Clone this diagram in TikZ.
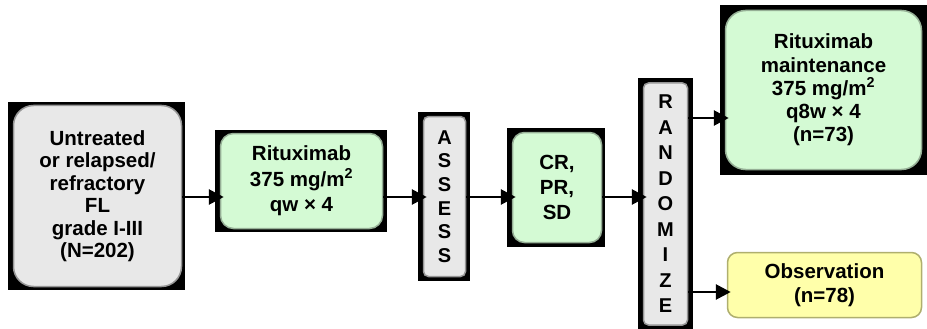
\documentclass[tikz,border=0pt]{standalone}
\usepackage{fontspec}
\setmainfont{Liberation Sans}
\usetikzlibrary{arrows.meta}
\definecolor{gfill}{RGB}{212,250,212}
\definecolor{gedge}{RGB}{150,175,150}
\definecolor{grfill}{RGB}{232,232,232}
\definecolor{gredge}{RGB}{150,150,150}
\definecolor{yfill}{RGB}{255,255,170}
\definecolor{yedge}{RGB}{175,175,110}
\tikzset{
  x=1pt, y=-1pt,
  txt/.style={font=\bfseries\fontsize{20.5}{22.5}\selectfont, align=center, inner sep=0pt, line width=1.5pt},
  greybox/.style={txt, fill=grfill, draw=gredge},
  greenbox/.style={txt, fill=gfill, draw=gedge},
  yellowbox/.style={txt, fill=yfill, draw=yedge},
  backing/.style={fill=black},
  arr/.style={line width=2.8pt, -{Triangle[length=15pt,width=15pt]}, shorten >=-4pt}
}
\begin{document}
\begin{tikzpicture}
\useasboundingbox (0,0) rectangle (927,329);
% black backdrops
\fill[backing] (8,102) rectangle (185,290);
\fill[backing] (215,130) rectangle (387,232);
\fill[backing] (418,112) rectangle (470,281);
\fill[backing] (507,128) rectangle (605,247);
\fill[backing] (638,78) rectangle (693,329);
\fill[backing] (720,5) rectangle (927,175);
% boxes
\node[greybox, minimum width=168pt, minimum height=181pt, rounded corners=20pt] (in) at (97.5,196)
  {Untreated\\or relapsed/\\refractory\\FL\\grade I-III\\(N=202)};
\node[greenbox, minimum width=162pt, minimum height=95pt, rounded corners=13pt,
  font=\bfseries\fontsize{20.5}{25.5}\selectfont] (rit) at (301.5,181)
  {Rituximab\\375 mg/m\textsuperscript{2}\\qw × 4};
\node[greybox, minimum width=42pt, minimum height=160pt, rounded corners=5pt,
  font=\bfseries\fontsize{20}{23.7}\selectfont] (assess) at (444.5,196.5)
  {A\\S\\S\\E\\S\\S};
\node[greenbox, minimum width=89pt, minimum height=110pt, rounded corners=12pt,
  font=\bfseries\fontsize{20.5}{25}\selectfont] (cr) at (557,187.5)
  {CR,\\PR,\\SD};
\node[greybox, minimum width=44pt, minimum height=242pt, rounded corners=5pt,
  font=\bfseries\fontsize{20}{25.5}\selectfont] (rand) at (665.5,204)
  {R\\A\\N\\D\\O\\M\\I\\Z\\E};
\node[greenbox, minimum width=196pt, minimum height=159pt, rounded corners=20pt,
  font=\bfseries\fontsize{20.5}{23.3}\selectfont] (maint) at (823.5,90)
  {Rituximab\\maintenance\\375 mg/m\textsuperscript{2}\\q8w × 4\\(n=73)};
\node[yellowbox, minimum width=194pt, minimum height=65pt, rounded corners=10pt,
  font=\bfseries\fontsize{20.5}{24}\selectfont] (obs) at (824.5,285)
  {Observation\\(n=78)};
% connectors
\coordinate (mid) at (0,197);
\coordinate (ta) at (0,118);
\coordinate (tb) at (0,292);
\draw[arr] (in.east |- mid) -- (rit.west |- mid);
\draw[arr] (rit.east |- mid) -- (assess.west |- mid);
\draw[arr] (assess.east |- mid) -- (cr.west |- mid);
\draw[arr] (cr.east |- mid) -- (rand.west |- mid);
\draw[arr] (rand.east |- ta) -- (maint.west |- ta);
\draw[arr] (rand.east |- tb) -- (obs.west |- tb);
\end{tikzpicture}
\end{document}
